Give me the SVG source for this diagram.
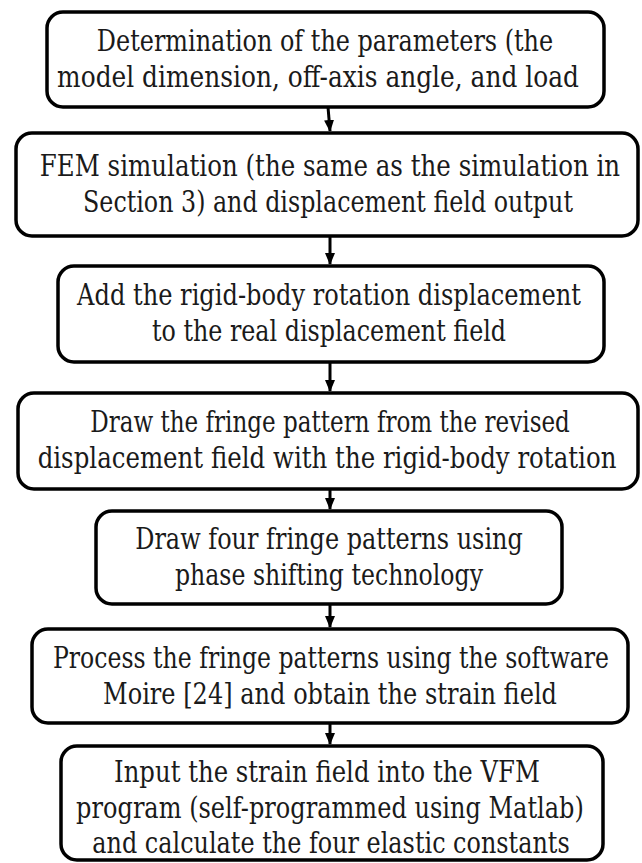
<svg xmlns="http://www.w3.org/2000/svg" width="642" height="863" viewBox="0 0 642 863">
<style>
.box{fill:#ffffff;stroke:#000000;stroke-width:3.5}
.t{font-family:"DejaVu Serif","Noto Serif",serif;font-size:29px;fill:#1a1a1a;text-anchor:middle}
.conn{stroke:#000000;stroke-width:3;fill:none}
</style>
<defs>
<marker id="ah" markerUnits="userSpaceOnUse" markerWidth="12" markerHeight="14" refX="11" refY="5" orient="auto" viewBox="0 0 12 10">
<path d="M0,0 L12,5 L0,10 Z" fill="#000000"/>
</marker>
</defs>
<rect width="642" height="863" fill="#ffffff"/>
<g id="connectors">
<line class="conn" x1="328" y1="107" x2="330" y2="131" marker-end="url(#ah)"/>
<line class="conn" x1="330" y1="237" x2="330" y2="264" marker-end="url(#ah)"/>
<line class="conn" x1="330" y1="363" x2="330" y2="391" marker-end="url(#ah)"/>
<line class="conn" x1="330" y1="490" x2="330" y2="509" marker-end="url(#ah)"/>
<line class="conn" x1="330" y1="605" x2="330" y2="627" marker-end="url(#ah)"/>
<line class="conn" x1="330" y1="724" x2="330" y2="744" marker-end="url(#ah)"/>
</g>
<g id="n1">
<rect class="box" x="47" y="12" width="557" height="95" rx="16"/>
<text class="t" transform="translate(325,51) scale(0.78,1)" textLength="585" lengthAdjust="spacingAndGlyphs">Determination of the parameters (the</text>
<text class="t" transform="translate(318,87) scale(0.78,1)" textLength="669" lengthAdjust="spacingAndGlyphs">model dimension, off-axis angle, and load</text>
</g>
<g id="n2">
<rect class="box" x="16" y="133" width="622" height="103" rx="16"/>
<text class="t" transform="translate(330,176) scale(0.78,1)" textLength="744" lengthAdjust="spacingAndGlyphs">FEM simulation (the same as the simulation in</text>
<text class="t" transform="translate(328,212) scale(0.78,1)" textLength="628" lengthAdjust="spacingAndGlyphs">Section 3) and displacement field output</text>
</g>
<g id="n3">
<rect class="box" x="58" y="266" width="546" height="96" rx="16"/>
<text class="t" transform="translate(329,305) scale(0.78,1)" textLength="646" lengthAdjust="spacingAndGlyphs">Add the rigid-body rotation displacement</text>
<text class="t" transform="translate(329,341) scale(0.78,1)" textLength="454" lengthAdjust="spacingAndGlyphs">to the real displacement field</text>
</g>
<g id="n4">
<rect class="box" x="18" y="393" width="620" height="96" rx="16"/>
<text class="t" transform="translate(330,432) scale(0.78,1)" textLength="615" lengthAdjust="spacingAndGlyphs">Draw the fringe pattern from the revised</text>
<text class="t" transform="translate(327,468) scale(0.78,1)" textLength="742" lengthAdjust="spacingAndGlyphs">displacement field with the rigid-body rotation</text>
</g>
<g id="n5">
<rect class="box" x="96" y="511" width="466" height="93" rx="16"/>
<text class="t" transform="translate(329,549) scale(0.78,1)" textLength="497" lengthAdjust="spacingAndGlyphs">Draw four fringe patterns using</text>
<text class="t" transform="translate(329,585) scale(0.78,1)" textLength="395" lengthAdjust="spacingAndGlyphs">phase shifting technology</text>
</g>
<g id="n6">
<rect class="box" x="32" y="629" width="596" height="94" rx="16"/>
<text class="t" transform="translate(331,668) scale(0.78,1)" textLength="713" lengthAdjust="spacingAndGlyphs">Process the fringe patterns using the software</text>
<text class="t" transform="translate(330,704) scale(0.78,1)" textLength="582" lengthAdjust="spacingAndGlyphs">Moire [24] and obtain the strain field</text>
</g>
<g id="n7">
<rect class="box" x="61" y="746" width="542" height="114" rx="16"/>
<text class="t" transform="translate(327,782) scale(0.78,1)" textLength="546" lengthAdjust="spacingAndGlyphs">Input the strain field into the VFM</text>
<text class="t" transform="translate(330,818) scale(0.78,1)" textLength="651" lengthAdjust="spacingAndGlyphs">program (self-programmed using Matlab)</text>
<text class="t" transform="translate(331,853) scale(0.78,1)" textLength="612" lengthAdjust="spacingAndGlyphs">and calculate the four elastic constants</text>
</g>
</svg>
